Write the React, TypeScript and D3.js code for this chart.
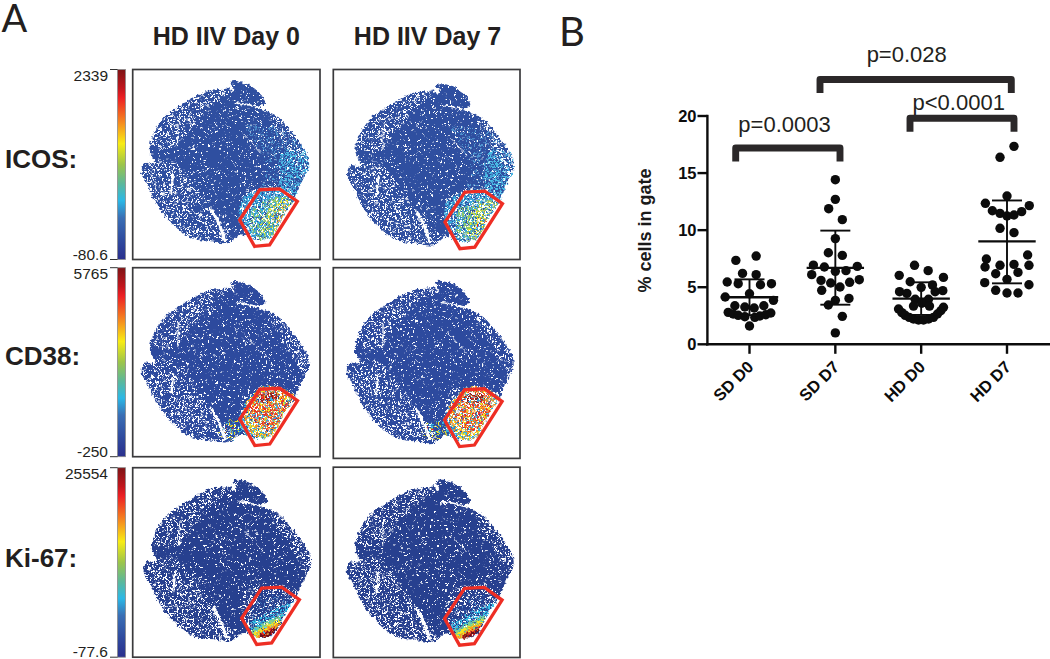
import React from "react";
import * as d3 from "d3";

type P = [number, number];

// ---------- panel B data ----------
const categories = ["SD D0", "SD D7", "HD D0", "HD D7"];
const yTicks = [0, 5, 10, 15, 20];

const sdD0Values = [7.73, 7.35, 6.21, 6.1, 5.46, 5.31, 5.22, 5.31, 4.43, 4.14, 3.85, 3.38, 3.27, 3.18, 3.38, 2.8, 2.65, 2.54, 2.42, 2.36, 2.48, 2.59, 2.74, 1.6];
const sdD0Swarm = [20, -41, -21, 20, -67, -34, 33, 66, 0, -73, 72, -44, -14, 14, 43, -64, -49, -34, -14, 16, 31, 49, 64, 0];
const sdD7Values = [14.42, 12.7, 11.88, 10.92, 9.26, 8.02, 7.79, 6.94, 6.77, 6.83, 6.1, 6.39, 6.45, 5.6, 5.37, 5.43, 5.66, 4.73, 5.02, 3.85, 4.02, 3.44, 2.45, 1.0];
const sdD7Swarm = [0, 0, -20, 21, 0, -21, 21, -66, -33, 66, -71, 0, 32, -43, -14, 43, 72, -41, 14, 0, 41, -21, 21, 0];
const hdD0Values = [6.92, 6.45, 6.04, 5.86, 5.48, 4.99, 5.19, 4.61, 4.46, 4.61, 4.7, 3.94, 3.94, 3.35, 3.6, 3.35, 3.09, 2.77, 2.54, 2.36, 2.22, 2.13, 2.13, 2.22, 2.36, 2.65, 2.94, 3.24];
const hdD0Swarm = [-20, 21, -66, 67, -33, 0, 34, -65, -43, 42, 65, -18, 22, -23, 2, 25, -68, -58, -48, -36, -23, -8, 7, 22, 37, 49, 59, 67];
const hdD7Values = [17.34, 16.38, 12.99, 12.35, 12.15, 11.7, 11.47, 11.24, 11.33, 11.62, 10.16, 9.78, 7.47, 7.82, 6.77, 6.92, 7.0, 6.92, 6.18, 6.3, 5.69, 5.4, 5.22, 4.73, 4.49, 4.49];
const hdD7Swarm = [21, -21, 0, -65, 67, -44, -21, 0, 21, 44, -21, 21, -62, 62, -66, -21, 21, 66, -34, 33, 0, -67, 66, -34, 0, 33];
const allValues = [sdD0Values, sdD7Values, hdD0Values, hdD7Values];
const allSwarm = [sdD0Swarm, sdD7Swarm, hdD0Swarm, hdD7Swarm];
const means = [4.12, 6.69, 4.0, 9.02];
const upperBars = [5.69, 9.96, 5.43, 12.6];
const lowerBars = [2.55, 3.47, 2.57, 5.34];

const pLabels = ["p=0.0003", "p=0.028", "p<0.0001"];
const bracketTops = [17.2, 23.2, 19.8];

// ---------- panel A data ----------
const columnTitles = ["HD IIV Day 0", "HD IIV Day 7"];
const markers = ["ICOS:", "CD38:", "Ki-67:"];
const scaleMax = ["2339", "5765", "25554"];
const scaleMin = ["-80.6", "-250", "-77.6"];
const jetStops: [number, string][] = [
  [0, "#7d1416"], [0.1, "#c3161d"], [0.15, "#ed2024"], [0.27, "#f58220"], [0.39, "#f8ec14"],
  [0.5, "#9cc54a"], [0.6, "#5cb89a"], [0.69, "#2bb8e6"], [0.78, "#3a6fb5"], [0.9, "#2f4a9e"], [1, "#2a2f8d"],
];

const blobOutline: P[] = [
  [0.537, 0.065], [0.591, 0.068], [0.653, 0.095], [0.698, 0.135], [0.719, 0.182], [0.689, 0.196], [0.733, 0.223],
  [0.786, 0.249], [0.858, 0.328], [0.911, 0.398], [0.947, 0.46], [0.952, 0.512], [0.929, 0.565], [0.893, 0.635],
  [0.875, 0.688], [0.822, 0.758], [0.751, 0.881], [0.662, 0.898], [0.591, 0.872], [0.52, 0.916], [0.431, 0.907],
  [0.324, 0.889], [0.217, 0.811], [0.146, 0.723], [0.093, 0.618], [0.057, 0.547], [0.075, 0.495], [0.128, 0.495],
  [0.101, 0.425], [0.119, 0.346], [0.181, 0.249], [0.27, 0.188], [0.342, 0.144], [0.422, 0.109], [0.466, 0.105], [0.52, 0.095],
];
const gateOutline: P[] = [[0.689, 0.635], [0.795, 0.63], [0.89, 0.696], [0.742, 0.925], [0.662, 0.933], [0.582, 0.793]];
const slits: P[][] = [
  [[0.564, 0.179], [0.64, 0.19], [0.724, 0.214]],
  [[0.226, 0.556], [0.217, 0.653]],
  [[0.431, 0.74], [0.47, 0.81], [0.502, 0.898]],
  [[0.253, 0.284], [0.25, 0.407]],
  [[0.6, 0.337], [0.698, 0.442]],
  [[0.53, 0.085], [0.545, 0.115]],
];
const sparseAreas: P[][] = [
  [[0.05, 0.55], [0.2, 0.47], [0.42, 0.72], [0.55, 0.93], [0.3, 0.95], [0.1, 0.8]],
  [[0.08, 0.36], [0.3, 0.1], [0.56, 0.08], [0.42, 0.2], [0.2, 0.42]],
  [[0.72, 0.2], [0.96, 0.42], [0.96, 0.6], [0.86, 0.45]],
  [[0.6, 0.66], [0.8, 0.62], [0.9, 0.7], [0.74, 0.93], [0.64, 0.93]],
];

type Layer = { colour: string; density: number; area: P[] };
const icosLayers: Layer[] = [
  { colour: "#4f94cf", density: 1, area: [[0.62, 0.3], [0.85, 0.33], [0.97, 0.47], [0.96, 0.58], [0.88, 0.68], [0.7, 0.66], [0.72, 0.5]] },
  { colour: "#49bde6", density: 2, area: [[0.82, 0.42], [0.96, 0.45], [0.96, 0.57], [0.88, 0.68], [0.8, 0.62]] },
  { colour: "#3aa8dc", density: 3, area: [[0.6, 0.68], [0.78, 0.62], [0.89, 0.69], [0.74, 0.93], [0.66, 0.93], [0.58, 0.79]] },
  { colour: "#8fc866", density: 2, area: [[0.65, 0.74], [0.8, 0.67], [0.87, 0.71], [0.74, 0.9], [0.66, 0.88]] },
  { colour: "#f3e622", density: 1, area: [[0.72, 0.75], [0.82, 0.68], [0.87, 0.71], [0.76, 0.87], [0.7, 0.86]] },
  { colour: "#f7941d", density: 0, area: [[0.78, 0.74], [0.85, 0.7], [0.77, 0.85], [0.74, 0.82]] },
  { colour: "#ee2e24", density: 0, area: [[0.8, 0.73], [0.84, 0.71], [0.77, 0.83], [0.75, 0.8]] },
];
const cd38Layers: Layer[] = [
  { colour: "#35b3e3", density: 3, area: [[0.58, 0.79], [0.69, 0.63], [0.8, 0.63], [0.89, 0.7], [0.74, 0.93], [0.66, 0.93]] },
  { colour: "#f3e622", density: 2, area: [[0.6, 0.75], [0.7, 0.63], [0.8, 0.63], [0.89, 0.7], [0.76, 0.9], [0.68, 0.9]] },
  { colour: "#f7941d", density: 2, area: [[0.6, 0.75], [0.7, 0.63], [0.8, 0.63], [0.89, 0.7], [0.76, 0.9], [0.68, 0.9]] },
  { colour: "#ee2e24", density: 2, area: [[0.62, 0.72], [0.72, 0.64], [0.82, 0.66], [0.84, 0.72], [0.72, 0.86]] },
  { colour: "#8a1a1c", density: 2, area: [[0.68, 0.67], [0.76, 0.65], [0.8, 0.68], [0.71, 0.71]] },
  { colour: "#f3e622", density: 1, area: [[0.46, 0.83], [0.56, 0.8], [0.6, 0.87], [0.5, 0.9]] },
  { colour: "#35b3e3", density: 1, area: [[0.46, 0.83], [0.58, 0.8], [0.6, 0.88], [0.5, 0.9]] },
  { colour: "#ee2e24", density: 0, area: [[0.49, 0.83], [0.54, 0.81], [0.55, 0.85], [0.5, 0.87]] },
];
const ki67Layers: Layer[] = [
  { colour: "#3f7fc4", density: 0, area: [[0.66, 0.7], [0.86, 0.68], [0.84, 0.75], [0.6, 0.84]] },
  { colour: "#35c0e8", density: 2, area: [[0.6, 0.845], [0.85, 0.715], [0.8, 0.8], [0.66, 0.89]] },
  { colour: "#7fcf8f", density: 3, area: [[0.62, 0.875], [0.8, 0.78], [0.77, 0.84], [0.66, 0.9]] },
  { colour: "#f3e622", density: 3, area: [[0.635, 0.885], [0.79, 0.8], [0.765, 0.85], [0.67, 0.9]] },
  { colour: "#f7941d", density: 3, area: [[0.65, 0.89], [0.78, 0.82], [0.76, 0.86], [0.67, 0.905]] },
  { colour: "#d8202a", density: 3, area: [[0.67, 0.895], [0.77, 0.835], [0.755, 0.87], [0.68, 0.91]] },
  { colour: "#701018", density: 3, area: [[0.68, 0.892], [0.77, 0.845], [0.75, 0.875], [0.69, 0.905]] },
];
const panelLayers = [icosLayers, cd38Layers, ki67Layers];
const baseColours = ["#2f4fa0", "#2d4a9e", "#27408f"];

// speckle coverage, sparse to dense
const speckleCutoffs = [0.63, 0.56, 0.5, 0.42];

// per-panel shift of the embedding inside its frame: [col][row]
const panelShift: P[][] = [
  [[-0.011, -0.002], [-0.01, 0.008], [0, 0]],
  [[0.016, 0.01], [0.014, 0.005], [0.014, 0.002]],
];

const ink = "#231f20";
const sans = "'Liberation Sans', Arial, sans-serif";

const frameX: P[] = [[132.7, 320], [333.3, 520]];
const frameY: P[][] = [
  [[69.5, 259.5], [267.7, 456.7], [467.7, 657.2]],
  [[69.5, 259.5], [267.7, 458.4], [467.2, 657.5]],
];

const yScale = d3.scaleLinear().domain([0, 20]).range([344.3, 116]);
const xScale = d3.scalePoint<string>().domain(categories).range([749.5, 1007]);
const step = xScale.step();
const swarmUnit = step / 258;
const closedCurve = d3.line().curve(d3.curveCatmullRomClosed.alpha(0.5));
const closedPoly = d3.line().curve(d3.curveLinearClosed);
const openCurve = d3.line().curve(d3.curveCatmullRom.alpha(0.5));

function SpeckleFilter({ id, cutoff, seed }: { id: string; cutoff: number; seed: number }) {
  const k = 14;
  const t = k * cutoff;
  return (
    <filter id={id} x="-5%" y="-5%" width="110%" height="110%" colorInterpolationFilters="sRGB">
      <feTurbulence type="fractalNoise" baseFrequency="0.62" numOctaves={1} seed={seed} result="n" />
      <feColorMatrix in="n" type="matrix" values={`0 0 0 0 0 0 0 0 0 0 0 0 0 0 0 ${k} 0 0 0 ${-t}`} result="m" />
      <feGaussianBlur in="m" stdDeviation="0.3" result="mb" />
      <feComposite in="SourceGraphic" in2="mb" operator="in" />
    </filter>
  );
}

function Panel({ col, row }: { col: number; row: number }) {
  const [sx, sy] = panelShift[col][row];
  const fy = frameY[col][row];
  const px = d3.scaleLinear().domain([0, 1]).range(frameX[col]);
  const py = d3.scaleLinear().domain([0, 1]).range(fy);
  const map = (a: P[]) => a.map(([x, y]) => [px(x + sx), py(y + sy)] as P);
  const clipId = `blob-${col}-${row}`;
  const blobPath = closedCurve(map(blobOutline))!;
  const heat = panelLayers[row].map((l, i) => (
    <path key={i} d={closedCurve(map(l.area))!} fill={l.colour} filter={`url(#speck-${l.density}-${i % 3})`} />
  ));
  const whites = (
    <g>
      <path d={blobPath} fill="#fff" filter="url(#speck-0-3)" />
      {sparseAreas.map((a, i) => (
        <path key={i} d={closedCurve(map(a))!} fill="#fff" filter="url(#speck-1-3)" />
      ))}
    </g>
  );
  return (
    <g>
      <clipPath id={clipId}>
        <path d={blobPath} />
      </clipPath>
      <g filter="url(#rough)">
        <g clipPath={`url(#${clipId})`}>
          <path d={blobPath} fill={baseColours[row]} />
          {row === 2 ? whites : heat}
          {row === 2 ? heat : whites}
        </g>
        {slits.map((s, i) => (
          <path key={i} d={openCurve(map(s))!} fill="none" stroke="#fff" strokeWidth={[1.6, 2.2, 3, 1.2, 0.9, 3][i]} strokeLinecap="round" />
        ))}
      </g>
      <path d={closedPoly(map(gateOutline))!} fill="none" stroke="#ee2e24" strokeWidth={3.3} strokeLinejoin="miter" />
      <rect
        x={frameX[col][0]}
        y={fy[0]}
        width={frameX[col][1] - frameX[col][0]}
        height={fy[1] - fy[0]}
        fill="none"
        stroke="#3a3a3c"
        strokeWidth={1.7}
      />
    </g>
  );
}

function ColourBar({ row }: { row: number }) {
  const [y0, y1] = frameY[0][row];
  return (
    <g>
      <rect x={117.5} y={y0} width={8} height={y1 - y0} fill="url(#jet)" stroke="#8a8a8c" strokeWidth={0.8} />
      <line x1={110} x2={117.5} y1={y0} y2={y0} stroke="#333" strokeWidth={1} />
      <line x1={110} x2={117.5} y1={y1} y2={y1} stroke="#333" strokeWidth={1} />
      <text x={108} y={y0 + 11} textAnchor="end" fontSize={15.5} fill={ink} fontFamily={sans}>{scaleMax[row]}</text>
      <text x={108} y={y1} textAnchor="end" fontSize={15.5} fill={ink} fontFamily={sans}>{scaleMin[row]}</text>
    </g>
  );
}

export default function App() {
  const markerBase = [168, 365, 566.5];
  const bracketX: P[] = [[735.7, 840], [820, 1011.3], [910, 1014]];
  const pLabelBase = [131.7, 61.7, 110];
  const pLabelX = [784.5, 906.7, 958.7];
  return (
    <svg
      width={1050}
      height={659}
      viewBox="0 0 1050 659"
      style={{ position: "absolute", left: 0, top: 0, display: "block", background: "#fff" }}
    >
      <defs>
        <linearGradient id="jet" x1="0" x2="0" y1="0" y2="1">
          {jetStops.map(([o, c]) => (
            <stop key={o} offset={o} stopColor={c} />
          ))}
        </linearGradient>
        {speckleCutoffs.map((c, d) =>
          [0, 1, 2, 3].map((v) => <SpeckleFilter key={`${d}-${v}`} id={`speck-${d}-${v}`} cutoff={c} seed={d * 5 + v * 11 + 2} />)
        )}
        <filter id="rough" x="-5%" y="-5%" width="110%" height="110%" colorInterpolationFilters="sRGB">
          <feTurbulence type="fractalNoise" baseFrequency="0.35" numOctaves={2} seed={7} result="t" />
          <feDisplacementMap in="SourceGraphic" in2="t" scale={5} xChannelSelector="R" yChannelSelector="G" result="d" />
          <feGaussianBlur in="d" stdDeviation="0.45" />
        </filter>
      </defs>

      {/* Panel A */}
      <text x={1.5} y={32} fontSize={38} fontWeight={400} fill={ink} fontFamily="Lato, 'Open Sans', sans-serif">A</text>
      {columnTitles.map((t, i) => (
        <text key={t} x={[226.3, 427.5][i]} y={45} textAnchor="middle" fontSize={25} fontWeight={700} fill={ink} fontFamily={sans}>{t}</text>
      ))}
      {markers.map((m, i) => (
        <text key={m} x={5} y={markerBase[i]} fontSize={26} fontWeight={700} fill={ink} fontFamily={sans}>{m}</text>
      ))}
      {markers.map((_, r) => <ColourBar key={r} row={r} />)}
      {markers.map((_, r) => columnTitles.map((__, c) => <Panel key={`${c}-${r}`} col={c} row={r} />))}

      {/* Panel B */}
      <text x={559} y={46} fontSize={40} fontWeight={400} fill={ink} fontFamily="Lato, 'Open Sans', sans-serif">B</text>

      {allValues.map((vals, c) =>
        vals.map((v, i) => (
          <circle key={`${c}-${i}`} cx={xScale(categories[c])! + allSwarm[c][i] * swarmUnit} cy={yScale(v)} r={4.7} fill="#0c0c0c" />
        ))
      )}
      {categories.map((cat, c) => {
        const x = xScale(cat)!;
        return (
          <g key={cat} stroke="#0c0c0c" fill="none">
            <line x1={x - 28.7} x2={x + 28.7} y1={yScale(means[c])} y2={yScale(means[c])} strokeWidth={2.3} />
            <line x1={x} x2={x} y1={yScale(upperBars[c])} y2={yScale(lowerBars[c])} strokeWidth={1.9} />
            <line x1={x - 15} x2={x + 15} y1={yScale(upperBars[c])} y2={yScale(upperBars[c])} strokeWidth={1.9} />
            <line x1={x - 15} x2={x + 15} y1={yScale(lowerBars[c])} y2={yScale(lowerBars[c])} strokeWidth={1.9} />
          </g>
        );
      })}

      <g stroke="#0c0c0c" strokeWidth={2.4} fill="none">
        <line x1={707.4} x2={707.4} y1={yScale(20) - 1.2} y2={yScale(0) + 1.2} />
        <line x1={706} x2={1050} y1={yScale(0)} y2={yScale(0)} />
        {yTicks.map((t) => (
          <line key={t} x1={697.5} x2={707.4} y1={yScale(t)} y2={yScale(t)} />
        ))}
        {categories.map((c) => (
          <line key={c} x1={xScale(c)} x2={xScale(c)} y1={yScale(0)} y2={yScale(0) + 9.5} />
        ))}
      </g>
      {yTicks.map((t) => (
        <text key={t} x={696.5} y={yScale(t) + 5.8} textAnchor="end" fontSize={16.5} fontWeight={700} fill="#0c0c0c" fontFamily={sans}>{t}</text>
      ))}
      {categories.map((c) => (
        <text
          key={c}
          transform={`translate(${xScale(c)! + 5},368) rotate(-45)`}
          textAnchor="end"
          fontSize={16.5}
          fontWeight={700}
          fill="#0c0c0c"
          fontFamily={sans}
        >
          {c}
        </text>
      ))}
      <text transform="translate(651,230.5) rotate(-90)" textAnchor="middle" fontSize={18} fontWeight={700} fill="#1a1a1a" fontFamily={sans}>% cells in gate</text>

      {pLabels.map((p, i) => {
        const top = yScale(bracketTops[i]);
        const [xa, xb] = bracketX[i];
        return (
          <g key={p}>
            <path d={`M${xa},${top + 13.5}V${top}H${xb}V${top + 13.5}`} fill="none" stroke="#2b2829" strokeWidth={6.9} strokeLinejoin="round" />
            <text x={pLabelX[i]} y={pLabelBase[i]} textAnchor="middle" fontSize={22} fill={ink} fontFamily={sans}>{p}</text>
          </g>
        );
      })}
    </svg>
  );
}
